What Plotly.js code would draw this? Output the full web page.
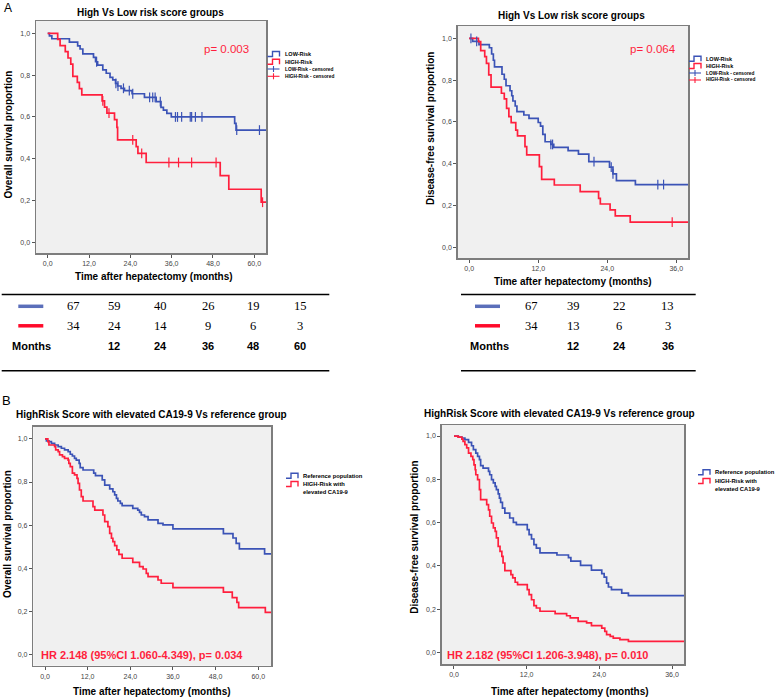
<!DOCTYPE html>
<html><head><meta charset="utf-8">
<script src="https://cdn.plot.ly/plotly-3.0.1.min.js"></script>
<style>html,body{margin:0;padding:0;background:#fff;}#chart{width:775px;height:699px;}</style>
</head><body><div id="chart"></div>
<script>
// ---------------- DATA ----------------
// Panel A-left: Overall survival, High vs Low risk
const osLowT = [0,0.5,1.2,6.3,8.7,9.4,10.2,13.3,13.9,14.5,16.0,17.0,18.1,18.9,19.7,20.3,21.3,22.3,24.5,28.1,31.5,32.9,33.6,34.6,35.9,54.3,54.7,64];
const osLowS = [1,0.988,0.974,0.958,0.940,0.925,0.902,0.885,0.864,0.848,0.825,0.809,0.789,0.777,0.761,0.748,0.737,0.726,0.711,0.694,0.673,0.646,0.633,0.617,0.600,0.569,0.537,0.537];
const osLowCens = [14.2,19.8,20.4,22.0,23.7,24.7,29.6,30.5,31.2,32.7,37.1,37.7,38.9,41.4,41.8,42.9,44.8,54.9,61.5];
const osHighT = [0,2.9,3.6,5.1,5.9,6.7,7.3,8.6,9.2,9.9,15.8,16.5,17.2,19.4,20.1,20.3,25.7,26.2,28.6,50.1,52.6,62.0,64];
const osHighS = [1,0.971,0.941,0.912,0.882,0.853,0.794,0.765,0.735,0.706,0.677,0.647,0.618,0.587,0.550,0.490,0.458,0.426,0.382,0.319,0.254,0.192,0.192];
const osHighCens = [16.0,17.8,24.7,27.3,35.2,38.0,41.8,48.9,62.4];

// Panel A-right: Disease-free survival, High vs Low risk
const dfsLowT = [0,0.6,1.7,3.5,3.9,4.2,4.4,5.7,6.1,6.4,7.1,7.4,7.6,8.0,8.3,9.5,10.4,12.0,12.4,12.8,13.2,14.2,14.7,17.2,19.0,20.8,24.4,25.0,25.6,28.9,38.5];
const dfsLowS = [1,0.985,0.970,0.955,0.925,0.895,0.863,0.828,0.804,0.773,0.749,0.725,0.700,0.676,0.649,0.633,0.617,0.597,0.580,0.540,0.505,0.492,0.478,0.462,0.446,0.410,0.383,0.351,0.319,0.300,0.300];
const dfsLowCens = [0.3,1.3,14.2,14.5,21.7,24.7,25.0,32.8,33.8];
const dfsHighT = [0,1.6,2.0,2.7,3.0,3.4,3.8,5.6,6.1,6.5,6.9,7.3,8.1,8.4,9.7,10.0,12.2,12.6,14.8,19.3,22.5,22.8,24.5,25.4,28.0,38.5];
const dfsHighS = [1,0.984,0.941,0.912,0.880,0.825,0.766,0.737,0.710,0.665,0.625,0.596,0.561,0.533,0.482,0.442,0.386,0.325,0.298,0.266,0.234,0.207,0.179,0.150,0.120,0.120];
const dfsHighCens = [35.3];

// Panel B-left: Overall survival, HighRisk+CA19-9 vs reference
const bosRefT = [0,0.4,1.1,1.8,2.7,3.7,4.6,5.5,6.5,7.1,7.7,8.3,8.8,9.6,9.9,10.7,13.7,14.2,16.1,16.8,18.2,19.1,19.6,20.1,20.5,21.2,21.7,24.7,26.1,26.6,27.1,28.0,29.0,31.8,33.2,36.0,50.2,52.9,53.8,54.7,61.8,64];
const bosRefS = [1,0.991,0.988,0.980,0.972,0.964,0.957,0.949,0.941,0.929,0.921,0.910,0.902,0.887,0.867,0.856,0.841,0.830,0.810,0.786,0.768,0.755,0.740,0.724,0.712,0.701,0.690,0.678,0.670,0.659,0.647,0.639,0.624,0.608,0.601,0.582,0.560,0.540,0.515,0.490,0.466,0.466];
const bosHighT = [0,0.8,1.1,2.7,3.0,3.7,4.1,4.9,5.5,6.5,6.7,7.1,7.7,8.3,9.0,9.3,9.7,10.2,10.7,13.5,14.0,16.3,16.8,17.7,18.2,18.7,19.1,19.6,20.2,20.8,21.7,24.7,26.6,27.6,28.5,29.0,31.8,32.7,36.0,50.2,52.7,54.0,54.5,62.0,64];
const bosHighS = [1,0.988,0.972,0.964,0.949,0.941,0.926,0.918,0.910,0.902,0.887,0.872,0.841,0.833,0.817,0.794,0.763,0.732,0.712,0.686,0.670,0.647,0.616,0.593,0.562,0.539,0.523,0.505,0.485,0.464,0.446,0.427,0.407,0.396,0.376,0.361,0.345,0.330,0.310,0.289,0.263,0.241,0.217,0.195,0.195];

// Panel B-right: Disease-free survival, HighRisk+CA19-9 vs reference
const bdfsRefT = [0,0.7,1.3,1.8,2.4,2.9,3.2,3.6,3.9,4.2,4.4,4.8,5.7,5.9,6.2,6.5,6.8,7.0,7.3,7.5,7.7,8.0,8.4,9.2,9.8,10.3,12.1,12.4,12.8,13.2,13.6,14.2,17.0,18.9,19.3,20.9,22.7,24.4,24.8,25.2,25.5,26.0,27.7,28.8,38.5];
const bdfsRefS = [1,0.995,0.991,0.983,0.971,0.955,0.937,0.921,0.906,0.891,0.863,0.852,0.837,0.821,0.798,0.783,0.767,0.752,0.733,0.713,0.693,0.667,0.644,0.621,0.601,0.590,0.567,0.544,0.524,0.498,0.482,0.460,0.450,0.438,0.422,0.402,0.380,0.364,0.348,0.320,0.302,0.290,0.274,0.262,0.262];
const bdfsHighT = [0,0.7,1.3,1.5,1.8,2.1,2.4,2.8,3.1,3.3,3.5,3.6,3.9,4.2,4.4,5.4,5.7,5.9,6.2,6.5,6.8,7.0,7.3,7.6,7.9,8.1,8.4,9.4,9.7,10.1,10.5,12.1,12.4,12.8,13.2,13.6,14.2,16.7,18.6,19.2,20.5,21.9,22.7,24.4,24.9,25.2,25.8,26.3,27.4,28.8,38.5];
const bdfsHighS = [1,0.995,0.986,0.975,0.960,0.945,0.921,0.906,0.891,0.867,0.844,0.821,0.798,0.752,0.706,0.683,0.659,0.629,0.598,0.575,0.559,0.529,0.490,0.467,0.444,0.413,0.378,0.359,0.344,0.324,0.313,0.290,0.267,0.243,0.216,0.205,0.190,0.179,0.169,0.159,0.143,0.136,0.123,0.112,0.097,0.082,0.074,0.066,0.059,0.051,0.051];

// Numbers at risk tables
const riskOsLow = [67,59,40,26,19,15];
const riskOsHigh = [34,24,14,9,6,3];
const riskOsMonths = ['','12','24','36','48','60'];
const riskDfsLow = [67,39,22,13];
const riskDfsHigh = [34,13,6,3];
const riskDfsMonths = ['','12','24','36'];

// Tick labels
const yTickVals = [0,0.2,0.4,0.6,0.8,1.0];
const yTickText = ['0,0','0,2','0,4','0,6','0,8','1,0'];
const xTickVals60 = [0,12,24,36,48,60];
const xTickText60 = ['0,0','12,0','24,0','36,0','48,0','60,0'];
const xTickVals36 = [0,12,24,36];
const xTickText36 = ['0,0','12,0','24,0','36,0'];

// ---------------- DRAWING ----------------
const W = 775, H = 699;
const px = x => x / W;
const py = y => 1 - y / H;
const BLUE = '#3b53b6', RED = '#ff1f3d';
const BLUEBAR = '#5b6fba', REDBAR = '#ff0a2a';
const SANS = 'Liberation Sans, Arial, sans-serif';
const SERIF = 'Liberation Serif, Times New Roman, serif';

function stepAt(T, S, t) {
  let v = S[0];
  for (let i = 0; i < T.length; i++) { if (T[i] <= t) v = S[i]; else break; }
  return v;
}
function curve(T, S, color, xa, ya) {
  return {x: T, y: S, type: 'scatter', mode: 'lines', xaxis: xa, yaxis: ya,
    line: {shape: 'hv', color: color, width: 1.7}, hoverinfo: 'skip', showlegend: false};
}
function cens(C, T, S, color, xa, ya) {
  return {x: C, y: C.map(t => stepAt(T, S, t)), type: 'scatter', mode: 'markers', xaxis: xa, yaxis: ya,
    marker: {symbol: 'line-ns-open', size: 7, color: color, line: {color: color, width: 1.2}},
    hoverinfo: 'skip', showlegend: false, cliponaxis: false};
}

const traces = [
  curve(osLowT, osLowS, BLUE, 'x', 'y'), curve(osHighT, osHighS, RED, 'x', 'y'),
  cens(osLowCens, osLowT, osLowS, BLUE, 'x', 'y'), cens(osHighCens, osHighT, osHighS, RED, 'x', 'y'),
  curve(dfsLowT, dfsLowS, BLUE, 'x2', 'y2'), curve(dfsHighT, dfsHighS, RED, 'x2', 'y2'),
  cens(dfsLowCens, dfsLowT, dfsLowS, BLUE, 'x2', 'y2'), cens(dfsHighCens, dfsHighT, dfsHighS, RED, 'x2', 'y2'),
  curve(bosRefT, bosRefS, BLUE, 'x3', 'y3'), curve(bosHighT, bosHighS, RED, 'x3', 'y3'),
  curve(bdfsRefT, bdfsRefS, BLUE, 'x4', 'y4'), curve(bdfsHighT, bdfsHighS, RED, 'x4', 'y4')
];

function axis(domain, range, vals, text, anchor) {
  return {domain: domain, range: range, anchor: anchor, tickmode: 'array', tickvals: vals, ticktext: text,
    showgrid: false, zeroline: false, showline: true, mirror: true, linecolor: '#7d7d7d', linewidth: 1.5,
    ticks: 'outside', ticklen: 3, tickwidth: 1, tickcolor: '#555',
    tickfont: {family: SANS, size: 7, color: '#444'}, fixedrange: true};
}

const layout = {
  width: W, height: H, margin: {l: 0, r: 0, t: 0, b: 0},
  paper_bgcolor: '#ffffff', plot_bgcolor: '#f0f0f0', showlegend: false,
  xaxis: axis([px(36), px(266)], [-3.4, 63.4], xTickVals60, xTickText60, 'y'),
  yaxis: axis([py(253), py(21)], [-0.051, 1.059], yTickVals, yTickText, 'x'),
  xaxis2: axis([px(457.7), px(688.3)], [-2.0, 38.1], xTickVals36, xTickText36, 'y2'),
  yaxis2: axis([py(258.3), py(26)], [-0.053, 1.059], yTickVals, yTickText, 'x2'),
  xaxis3: axis([px(33.3), px(271)], [-3.3, 63.6], xTickVals60, xTickText60, 'y3'),
  yaxis3: axis([py(665.7), py(426.7)], [-0.053, 1.057], yTickVals, yTickText, 'x3'),
  xaxis4: axis([px(441.7), px(684)], [-2.03, 37.98], xTickVals36, xTickText36, 'y4'),
  yaxis4: axis([py(664), py(425)], [-0.054, 1.051], yTickVals, yTickText, 'x4'),
  annotations: [], shapes: []
};
const A = layout.annotations, S = layout.shapes;
function txt(x, y, text, o) {
  o = o || {};
  A.push({xref: 'paper', yref: 'paper', x: px(x), y: py(y), text: text, showarrow: false,
    xanchor: o.xa || 'center', yanchor: 'middle', textangle: o.angle || 0,
    font: {family: o.family || SANS, size: o.size || 10, color: o.color || '#000'}});
}
function hline(x0, x1, y, color, w) {
  S.push({type: 'line', xref: 'paper', yref: 'paper', x0: px(x0), x1: px(x1), y0: py(y), y1: py(y),
    line: {color: color, width: w}});
}
function stepIcon(x0, y, color) {
  const p = [[x0, y + 2.5], [x0 + 5, y + 2.5], [x0 + 5, y - 2.5], [x0 + 12, y - 2.5], [x0 + 12, y + 2.5]]
    .map((q, i) => (i ? 'L' : 'M') + px(q[0]) + ',' + py(q[1])).join(' ');
  S.push({type: 'path', xref: 'paper', yref: 'paper', path: p, line: {color: color, width: 1.4}});
}
function censIcon(x0, y, color) {
  hline(x0, x0 + 12, y, color, 1.1);
  S.push({type: 'line', xref: 'paper', yref: 'paper', x0: px(x0 + 6), x1: px(x0 + 6), y0: py(y - 3), y1: py(y + 3),
    line: {color: color, width: 1.1}});
}

// panel letters
txt(7.5, 8, 'A', {size: 12});
txt(6, 400, 'B', {size: 13});

// titles
txt(150, 12.5, '<b>High Vs Low risk score groups</b>');
txt(571, 16, '<b>High Vs Low risk score groups</b>');
txt(151, 414.3, '<b>HighRisk Score with elevated CA19-9 Vs reference group</b>');
txt(559.7, 413.3, '<b>HighRisk Score with elevated CA19-9 Vs reference group</b>');

// axis titles
txt(153.5, 276.7, '<b>Time after hepatectomy (months)</b>');
txt(572.8, 282, '<b>Time after hepatectomy (months)</b>');
txt(152.2, 691.7, '<b>Time after hepatectomy (months)</b>');
txt(569.5, 691.7, '<b>Time after hepatectomy (months)</b>');
txt(7.5, 135, '<b>Overall survival proportion</b>', {angle: -90});
txt(431, 129, '<b>Disease-free survival proportion</b>', {angle: -90});
txt(7.5, 534.5, '<b>Overall survival proportion</b>', {angle: -90});
txt(415, 537.8, '<b>Disease-free survival proportion</b>', {angle: -90});

// p-values and HR
txt(226.5, 49, 'p= 0.003', {size: 11.5, color: RED});
txt(652.5, 49, 'p= 0.064', {size: 11.5, color: RED});
txt(39, 655, '<b>HR 2.148 (95%CI 1.060-4.349), p= 0.034</b>', {size: 11, color: RED, xa: 'left'});
txt(445, 655, '<b>HR 2.182 (95%CI 1.206-3.948), p= 0.010</b>', {size: 11, color: RED, xa: 'left'});

// legends A
function legendA(x0, ys) {
  stepIcon(x0, ys[0], BLUE); txt(x0 + 15, ys[0], '<b>LOW-Risk</b>', {size: 5.5, xa: 'left'});
  stepIcon(x0, ys[1], RED); txt(x0 + 15, ys[1], '<b>HIGH-Risk</b>', {size: 5.5, xa: 'left'});
  censIcon(x0, ys[2], BLUE); txt(x0 + 15, ys[2], '<b>LOW-Risk - censored</b>', {size: 4.8, xa: 'left'});
  censIcon(x0, ys[3], RED); txt(x0 + 15, ys[3], '<b>HIGH-Risk - censored</b>', {size: 4.8, xa: 'left'});
}
legendA(267.5, [54, 61.7, 69, 76.3]);
legendA(689, [58.7, 66, 73, 80]);
function legendB(x0, ys) {
  stepIcon(x0, ys[0], BLUE); txt(x0 + 15, ys[0], '<b>Reference population</b>', {size: 5.8, xa: 'left'});
  stepIcon(x0, ys[1], RED); txt(x0 + 15, ys[1], '<b>HIGH-Risk with</b>', {size: 5.8, xa: 'left'});
  txt(x0 + 15, ys[2], '<b>elevated CA19-9</b>', {size: 5.8, xa: 'left'});
}
legendB(286, [475.7, 484, 491.7]);
legendB(698, [472.3, 481, 489]);

// at-risk tables
function table(x0, x1, barX, cols, low, high, months) {
  hline(x0, x1, 294.5, '#000', 1.6);
  hline(x0, x1, 370.7, '#000', 1.6);
  hline(barX, barX + 25, 306.3, BLUEBAR, 3.5);
  hline(barX, barX + 25, 325.8, REDBAR, 3.5);
  cols.forEach((cx, i) => {
    txt(cx, 306, String(low[i]), {family: SERIF, size: 12.5});
    txt(cx, 326, String(high[i]), {family: SERIF, size: 12.5});
    if (months[i]) txt(cx, 346, '<b>' + months[i] + '</b>', {size: 11});
  });
  txt(x0 + (barX - x0) * 0.45 + 1, 346, '<b>Months</b>', {size: 11, xa: 'left'});
}
table(1.7, 329.3, 18.3, [73, 114.3, 160, 208.3, 253, 300], riskOsLow, riskOsHigh, riskOsMonths);
table(461, 695.7, 475, [531.7, 573.3, 619.3, 667.5], riskDfsLow, riskDfsHigh, riskDfsMonths);

Plotly.newPlot('chart', traces, layout, {displayModeBar: false, staticPlot: true});
</script></body></html>
